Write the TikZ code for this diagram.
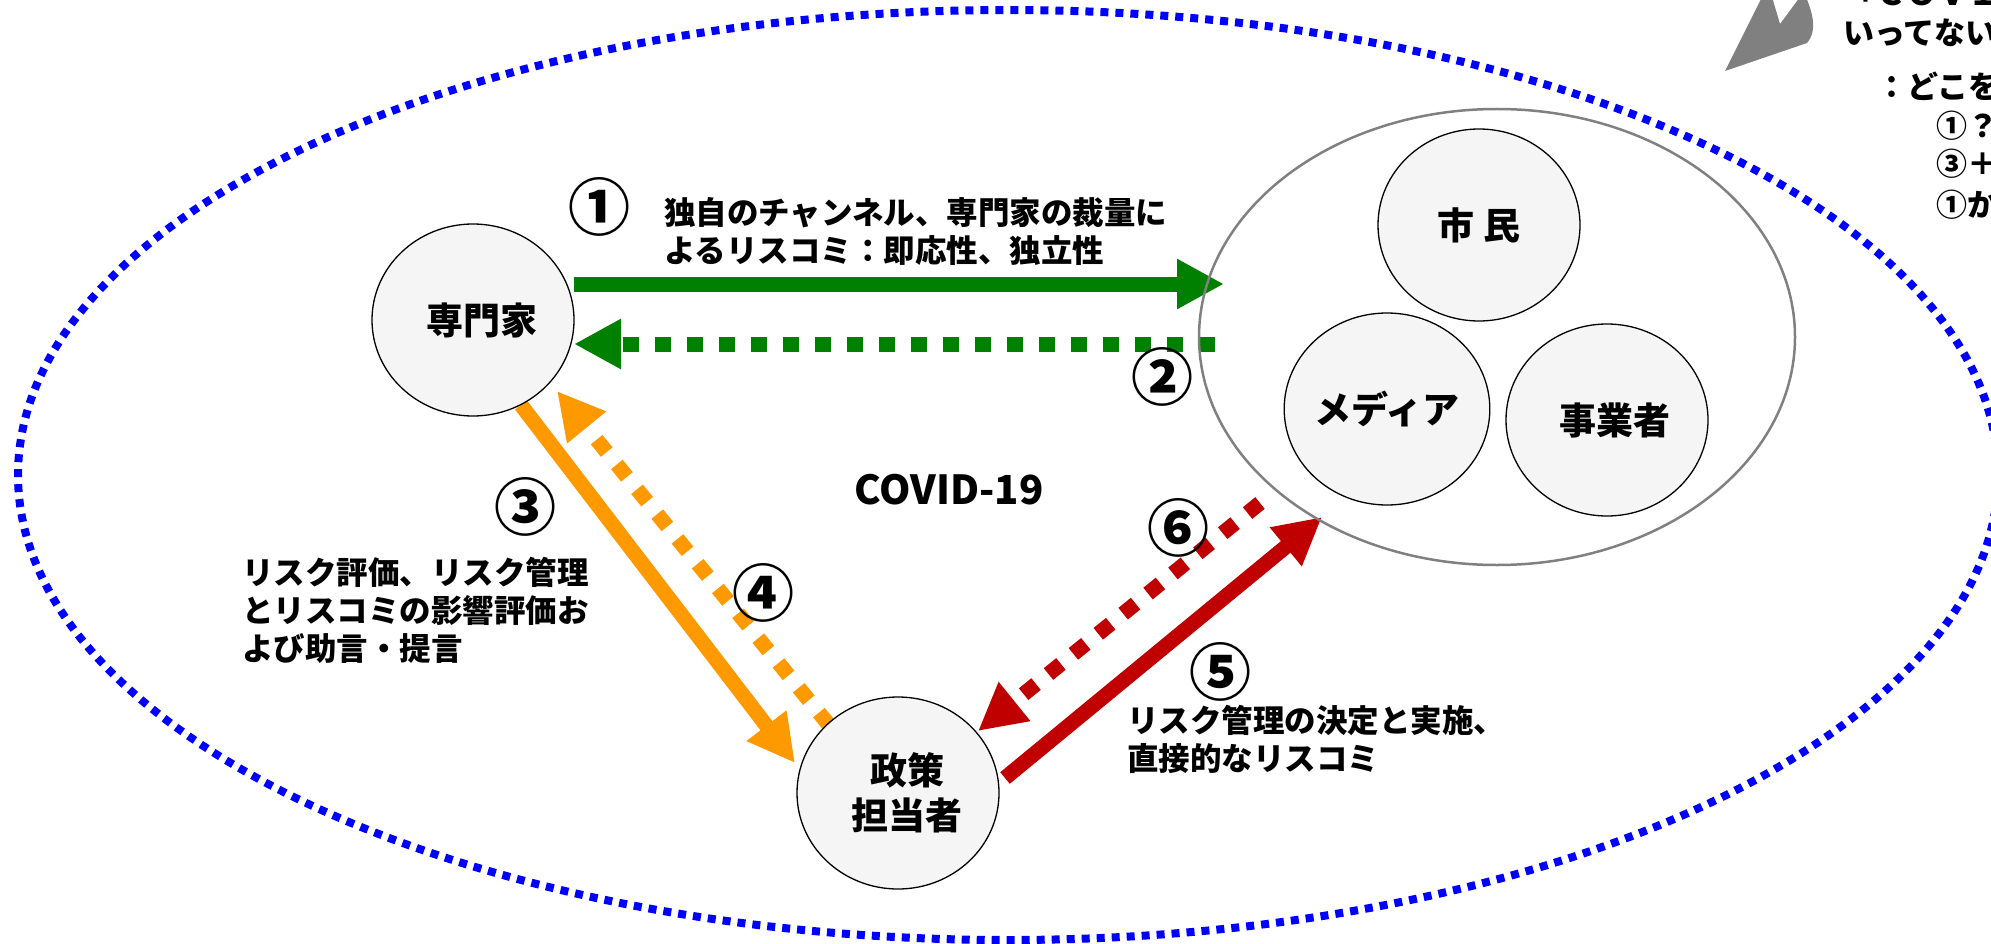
\documentclass[tikz,border=0pt]{standalone}
\usepackage{fontspec}
\setmainfont{Noto Sans CJK JP}
\usetikzlibrary{shapes.geometric,arrows.meta,calc}
\pgfdeclarelayer{bg}
\pgfsetlayers{bg,main}
\definecolor{arrgreen}{RGB}{0,128,0}
\definecolor{arrorange}{RGB}{255,153,0}
\definecolor{arrred}{RGB}{192,0,0}
\definecolor{dotblue}{RGB}{0,0,255}
\definecolor{grayline}{RGB}{128,128,128}
\definecolor{nodefill}{RGB}{245,245,245}
\newcommand\fsnode{\fontsize{37}{45}\selectfont}
\newcommand\fslab{\fontsize{31.5}{38}\selectfont}
\newcommand\fsnum{\fontsize{62}{62}\selectfont}
\newcommand\fscov{\fontsize{40}{40}\selectfont}
\newcommand\fsnote{\fontsize{31}{38}\selectfont}
\begin{document}
\begin{tikzpicture}[x=1pt,y=-1pt,
  stakeholder/.style={ellipse, draw=black, line width=1.3pt, fill=nodefill,
    minimum width=202pt, minimum height=192pt, inner sep=0pt, align=center,
    font=\fsnode\bfseries},
  groupring/.style={ellipse, draw=grayline, line width=2.5pt,
    minimum width=596pt, minimum height=456pt, inner sep=0pt},
  flowarrow/.style={line width=15pt, -{Triangle[length=47pt,width=47pt]}},
  flowdashed/.style={flowarrow, dash pattern=on 16pt off 16pt},
  circnum/.style={inner sep=0pt, font=\fsnum\bfseries},
  labeltext/.style={inner sep=0pt, anchor=north west, align=left, font=\fslab\bfseries},
  notetext/.style={inner sep=0pt, anchor=base west, font=\fsnote\bfseries},
  covidring/.style={draw=dotblue, line width=8pt, dash pattern=on 8pt off 7pt}
]
\useasboundingbox (0,0) rectangle (1991,944);
\clip (0,0) rectangle (1991,944);

% nodes
\node[groupring] (G) at (1497,337) {};
\node[stakeholder] (E) at (473,320) {\hspace*{18pt}専門家};
\node[stakeholder] (P) at (898,793) {\hspace*{18pt}政策\\\hspace*{18pt}担当者};
\node[stakeholder] (C) at (1479,225) {市 民};
\node[stakeholder] (M) at (1387,409) {メディア};
\node[stakeholder] (B) at (1607,420) {\hspace*{16pt}事業者};

% background: ring and arrows
\begin{pgfonlayer}{bg}
\draw[covidring] (1008,475) ellipse [x radius=990pt, y radius=465pt];
\draw[flowarrow, arrgreen] ($(E.center)+(101,-36)$) -- ($(G.center)+(-273,-53)$);
\draw[flowdashed, arrgreen] ($(G.center)+(-282,7)$) -- ($(E.center)+(101,24)$);
\draw[flowarrow, arrorange] ($(E.center)+(48,85)$) -- ($(P.center)+(-103,-30)$);
\draw[flowdashed, arrorange] ($(P.center)+(-69,-68)$) -- ($(E.center)+(84,71)$);
\draw[flowarrow, arrred] ($(P.center)+(107,-15)$) -- ($(G.center)+(-175,180)$);
\draw[flowdashed, arrred] ($(G.center)+(-237,166)$) -- ($(P.center)+(80,-62)$);
\end{pgfonlayer}

% circled numbers
\node[circnum] (n1) at (599,207) {①};
\node[circnum] (n2) at (1162,377) {②};
\node[circnum] (n3) at (525,507) {③};
\node[circnum] (n4) at (763,593) {④};
\node[circnum] (n5) at (1220,672) {⑤};
\node[circnum] (n6) at (1178,528) {⑥};

% labels
\node[labeltext] (l1) at (664,197) {独自のチャンネル、専門家の裁量に\\よるリスコミ：即応性、独立性};
\node[labeltext] (l3) at (242,557) {リスク評価、リスク管理\\とリスコミの影響評価お\\よび助言・提言};
\node[labeltext] (l5) at (1127,705) {リスク管理の決定と実施、\\直接的なリスコミ};
\node[inner sep=0pt, font=\fscov\bfseries] (cv) at (949,490) {COVID-19};

% top-right note (cut by the picture edge)
\fill[grayline] (1725,71) -- (1762,-3) -- (1772,-3) -- (1780,24) -- (1800,-3) -- (1806,-3)
  .. controls (1812,12) and (1818,30) .. (1807,43) -- cycle;
\node[notetext] (t1) at (1856,6) {+ＣＯＶＩＤ};
\node[notetext] (t2) at (1843,45) {いってない};
\node[notetext] (t3) at (1876,99) {：どこを};
\node[notetext] (t4) at (1936,138) {①？};
\node[notetext] (t5) at (1936,176) {③＋};
\node[notetext] (t6) at (1936,216) {①か};
\end{tikzpicture}
\end{document}
